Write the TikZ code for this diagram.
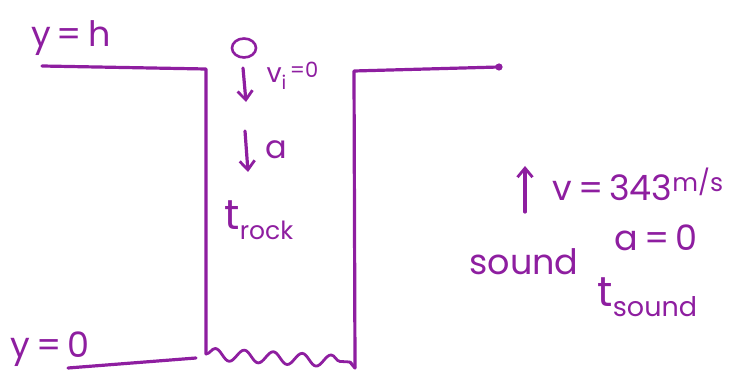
\documentclass[tikz,border=0pt]{standalone}
\usepackage{fontspec}
\setmainfont{Poppins}
\usetikzlibrary{decorations.pathmorphing,arrows.meta,shapes.geometric}
\definecolor{ink}{RGB}{142,30,160}
\begin{document}
\begin{tikzpicture}[x=1pt,y=-1pt, draw=ink, fill=ink, line width=3.2pt, line cap=round, line join=round,
  lbl/.style={text=ink, inner sep=0pt},
  big/.style={font=\fontsize{35}{35}\selectfont},
  arr/.style={-{Straight Barb[length=9pt,width=15pt,line width=2.8pt]}}]
\useasboundingbox (0,0) rectangle (739,379);
% ground and well walls
\coordinate (gl) at (42,66);
\coordinate (tl) at (206,69);
\coordinate (bl) at (206,354);
\coordinate (tr) at (354,71);
\coordinate (gr) at (499,67);
\coordinate (br) at (355,368);
\coordinate (wv) at (350,362);
\coordinate (b0) at (68,368);
\coordinate (b1) at (196,358);
\draw (gl) -- (tl) -- (bl);
\draw (gr) -- (tr) -- (br);
\fill (gr) circle (3.6);
\draw (b0) -- (b1);
\draw[line width=2.8pt, decorate, decoration={snake, segment length=29pt, amplitude=6pt}] (bl) -- (wv);
\draw (wv) -- (br);
% labels left
\node[lbl, big] (yh) at (71,38) {y\,=\,h};
\node[lbl, big] (y0) at (50,349) {y\,=\,0};
% rock
\node[draw=ink, line width=2.6pt, ellipse, minimum width=24pt, minimum height=19pt, inner sep=0pt] (rock) at (244,48) {};
\coordinate (a1s) at (243,68);
\coordinate (a1e) at (246,102);
\draw[arr] (a1s) -- (a1e);
\node[lbl, anchor=west, font=\fontsize{27}{27}\selectfont] (vi) at (265,76) {v\raisebox{-7pt}{\fontsize{19}{19}\selectfont i}\raisebox{5pt}{\fontsize{21}{21}\selectfont \,=0}};
\coordinate (a2s) at (245,131);
\coordinate (a2e) at (248,172);
\draw[arr] (a2s) -- (a2e);
\node[lbl, font=\fontsize{32}{32}\selectfont] (acc) at (276,150) {a};
\node[lbl, anchor=west] (trock) at (223,220) {\fontsize{42}{42}\selectfont t\raisebox{-10pt}{\fontsize{25}{25}\selectfont rock}};
% labels right
\coordinate (a3s) at (525,212);
\coordinate (a3e) at (525,166);
\draw[arr] (a3s) -- (a3e);
\node[lbl, anchor=west, big] (vs) at (551,184) {v\,=\,343\raisebox{9pt}{\fontsize{25}{25}\selectfont m/s}};
\node[lbl, big] (snd) at (524,262) {sound};
\node[lbl, big] (a0) at (656,238) {a\,=\,0};
\node[lbl, anchor=west] (ts) at (596,297) {\fontsize{42}{42}\selectfont t\raisebox{-10pt}{\fontsize{27}{27}\selectfont sound}};
\end{tikzpicture}
\end{document}
